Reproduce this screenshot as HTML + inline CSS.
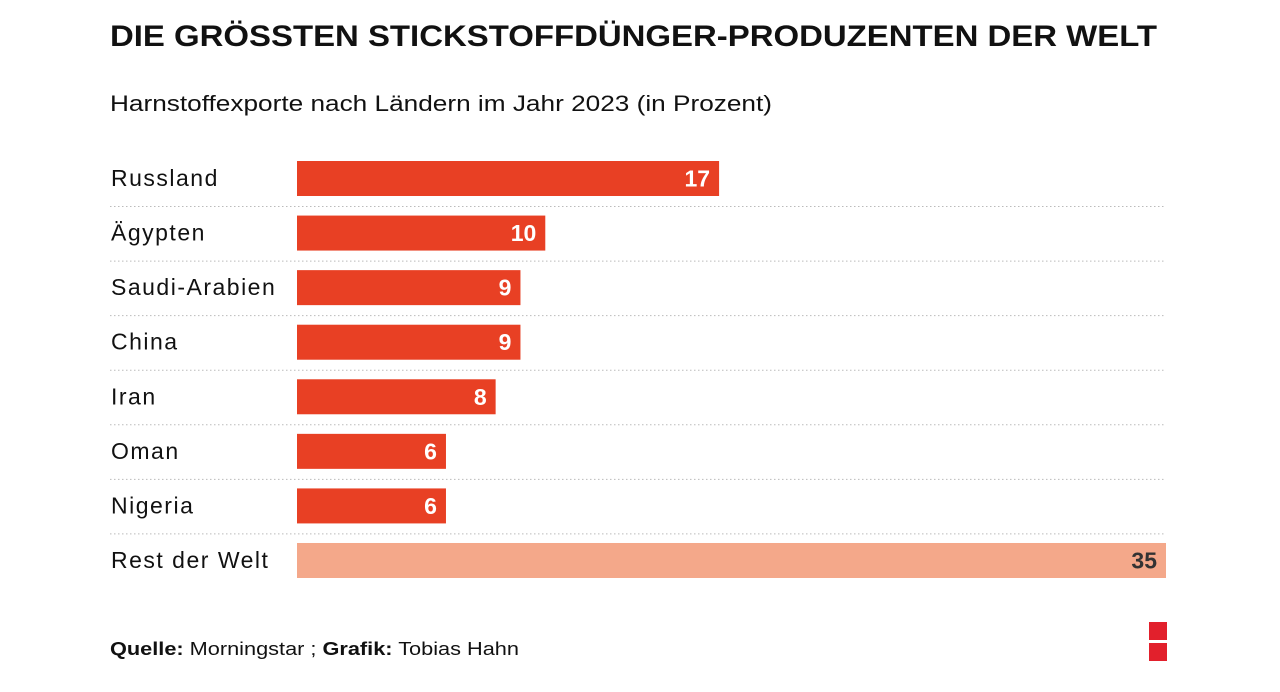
<!DOCTYPE html>
<html><head><meta charset="utf-8"><style>
html,body{margin:0;padding:0;background:#fff;}
svg{display:block;font-family:"Liberation Sans",sans-serif;}
</style></head><body>
<svg id="chart" width="1280" height="692" viewBox="0 0 1280 692" xmlns="http://www.w3.org/2000/svg">
<text x="110" y="46" font-size="30" font-weight="bold" fill="#111" textLength="1047" lengthAdjust="spacingAndGlyphs">DIE GRÖSSTEN STICKSTOFFDÜNGER-PRODUZENTEN DER WELT</text>
<text x="110" y="111" font-size="22" fill="#111" textLength="662" lengthAdjust="spacingAndGlyphs">Harnstoffexporte nach Ländern im Jahr 2023 (in Prozent)</text>
<g id="rows"></g>
<text x="110" y="655" font-size="18" fill="#111" textLength="409" lengthAdjust="spacingAndGlyphs"><tspan font-weight="bold">Quelle:</tspan> Morningstar ; <tspan font-weight="bold">Grafik:</tspan> Tobias Hahn</text>
<rect x="1149" y="622" width="18" height="18" fill="#e2202c"/>
<rect x="1149" y="643" width="18" height="18" fill="#e2202c"/>
</svg>
<script>
const categories = ["Russland","Ägypten","Saudi-Arabien","China","Iran","Oman","Nigeria","Rest der Welt"];
const values = [17,10,9,9,8,6,6,35];
const valueLabels = ["17","10","9","9","8","6","6","35"];
const maxValue = 35;

const x0 = 297, x1 = 1166, top0 = 161, pitch = 54.57, barH = 35;
function scaleX(v){ return x0 + (x1 - x0) * v / maxValue; }
function rowY(i){ return top0 + i * pitch; }

const g = document.getElementById('rows');
const NS = "http://www.w3.org/2000/svg";
categories.forEach((c,i)=>{
  const y = rowY(i);
  const isRest = i === categories.length - 1;
  const lab = document.createElementNS(NS,'text');
  
  
  lab.setAttribute('x',111); lab.setAttribute('y',y+25);
  lab.setAttribute('font-size',23); lab.setAttribute('fill','#111');
  lab.setAttribute('letter-spacing','1.5');
  lab.textContent = c; g.appendChild(lab);
  const r = document.createElementNS(NS,'rect');
  
  
  r.setAttribute('x',x0); r.setAttribute('y',y);
  r.setAttribute('width',scaleX(values[i])-x0); r.setAttribute('height',barH);
  r.setAttribute('fill', isRest ? '#f4a88a' : '#e84024');
  g.appendChild(r);
  const vt = document.createElementNS(NS,'text');
  
  
  vt.setAttribute('x',scaleX(values[i])-9); vt.setAttribute('y',y+25.5);
  vt.setAttribute('text-anchor','end'); vt.setAttribute('font-size',23);
  vt.setAttribute('font-weight','bold');
  vt.setAttribute('fill', isRest ? '#333' : '#fff');
  vt.textContent = valueLabels[i]; g.appendChild(vt);
  if(!isRest){
    const ln = document.createElementNS(NS,'line');
    
    
    ln.setAttribute('x1',110); ln.setAttribute('x2',x1);
    ln.setAttribute('y1',y+barH+10.5); ln.setAttribute('y2',y+barH+10.5);
    ln.setAttribute('stroke','#bbb'); ln.setAttribute('stroke-width',1);
    ln.setAttribute('stroke-dasharray','1.5 2.5');
    g.appendChild(ln);
  }
});
</script>
</body></html>
